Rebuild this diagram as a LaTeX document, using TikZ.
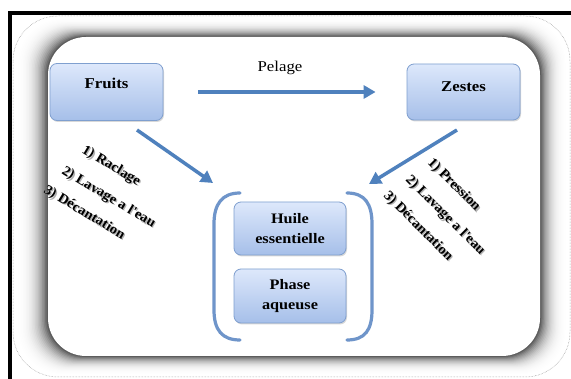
\documentclass[tikz,border=0pt]{standalone}
\usepackage{fontspec}
\setmainfont[FakeStretch=1.12]{Liberation Serif}
\newfontfamily\stepfont[FakeStretch=1.05]{Liberation Serif}
\usetikzlibrary{arrows.meta,shadows}
\definecolor{arrowblue}{HTML}{4F81BD}
\definecolor{boxtop}{HTML}{DDE8FB}
\definecolor{boxbot}{HTML}{A6BFE9}
\definecolor{boxline}{HTML}{7F9FCF}
\definecolor{brk}{HTML}{6F95CA}
\tikzset{
  procbox/.style={rounded corners=7pt, draw=boxline, line width=0.8pt,
    top color=boxtop, bottom color=boxbot, minimum width=113pt,
    drop shadow={shadow xshift=1pt, shadow yshift=-1.5pt, opacity=0.3},
    align=center, font=\fontsize{14.5}{20}\selectfont\bfseries},
  boxtext/.style={font=\fontsize{15}{19}\selectfont\bfseries, inner sep=0pt},
  flow/.style={draw=arrowblue, line width=3.5pt, -{Triangle[length=12pt,width=13pt]}},
  steptext/.style={font=\stepfont\fontsize{14}{15}\selectfont\bfseries, anchor=base west, inner sep=0pt},
  stepshadow/.style={steptext, text=black!30, xshift=1.2pt, yshift=-1.2pt},
  bracket/.style={draw=brk, line width=3.2pt, line cap=round},
}
\begin{document}
\begin{tikzpicture}[x=1pt,y=-1pt]
\useasboundingbox (0,0) rectangle (571,379);
\fill[white] (0,0) rectangle (571,379);
% outer frame
\draw[black, line width=3.5pt] (10,379) -- (10,13) -- (571,13);
% outer pale rounded shape with shadow rings
\fill[white, rounded corners=45pt] (13,16) rectangle (570,377);
\foreach \k in {0,...,24}{
  \pgfmathsetmacro{\t}{\k/24}
  \pgfmathsetmacro{\c}{72*\t*\t*\t}
  \pgfmathsetmacro{\xa}{13+35*\t}
  \pgfmathsetmacro{\ya}{16+21*\t}
  \pgfmathsetmacro{\xb}{570-30*\t}
  \pgfmathsetmacro{\yb}{377-21*\t}
  \pgfmathsetmacro{\r}{45-7*\t}
  \fill[black!\c, rounded corners=\r pt] (\xa,\ya) rectangle (\xb,\yb);
}
\draw[black!45, line width=0.5pt, densely dotted, rounded corners=45pt] (13,16) rectangle (570,377);
\fill[white, rounded corners=38pt] (48,37) rectangle (540,356);

% boxes
\node[procbox, minimum height=57pt,
  label={[boxtext, yshift=9pt]center:Fruits}] (fruits) at (106.5,92) {};
\node[procbox, minimum height=56pt,
  label={[boxtext, yshift=5pt]center:Zestes}] (zestes) at (463.5,92) {};
\node[procbox, minimum height=53pt, minimum width=112pt] (huile) at (290,228.5) {Huile\\essentielle};
\node[procbox, minimum height=54pt, minimum width=112pt] (phase) at (290,296) {Phase\\aqueuse};

% Pelage arrow
\node[font=\fontsize{15}{17}\selectfont] (pelage) at (280,68) {Pelage};
\draw[flow, shorten <=35pt, shorten >=31pt] (fruits.east) -- (zestes.west);

% diagonal arrows
\coordinate (fs) at (137,130);
\coordinate (fe) at (213,183);
\coordinate (zs) at (457,130);
\coordinate (ze) at (369,184);
\draw[flow] (fs) -- (fe);
\draw[flow] (zs) -- (ze);

% brackets
\draw[bracket] (240,193) .. controls (222,193) and (214,204) .. (214,224) -- (214,310)
  .. controls (214,330) and (222,340) .. (240,340);
\draw[bracket] (347,193) .. controls (365,193) and (372,204) .. (372,224) -- (372,310)
  .. controls (372,330) and (365,340) .. (347,340);

% left steps
\node[stepshadow, rotate=-31] (l1s) at (81,152) {1) Raclage};
\node[stepshadow, rotate=-31] (l2s) at (61,173) {2) Lavage a l'eau};
\node[stepshadow, rotate=-31] (l3s) at (43,192) {3) Décantation};
\node[steptext, rotate=-31] (l1) at (81,152) {1) Raclage};
\node[steptext, rotate=-31] (l2) at (61,173) {2) Lavage a l'eau};
\node[steptext, rotate=-31] (l3) at (43,192) {3) Décantation};

% right steps
\node[stepshadow, rotate=-45] (r1s) at (427,163) {1) Pression};
\node[stepshadow, rotate=-45] (r2s) at (405,180) {2) Lavage a l'eau};
\node[stepshadow, rotate=-45] (r3s) at (383,196) {3) Décantation};
\node[steptext, rotate=-45] (r1) at (427,163) {1) Pression};
\node[steptext, rotate=-45] (r2) at (405,180) {2) Lavage a l'eau};
\node[steptext, rotate=-45] (r3) at (383,196) {3) Décantation};
\end{tikzpicture}
\end{document}
